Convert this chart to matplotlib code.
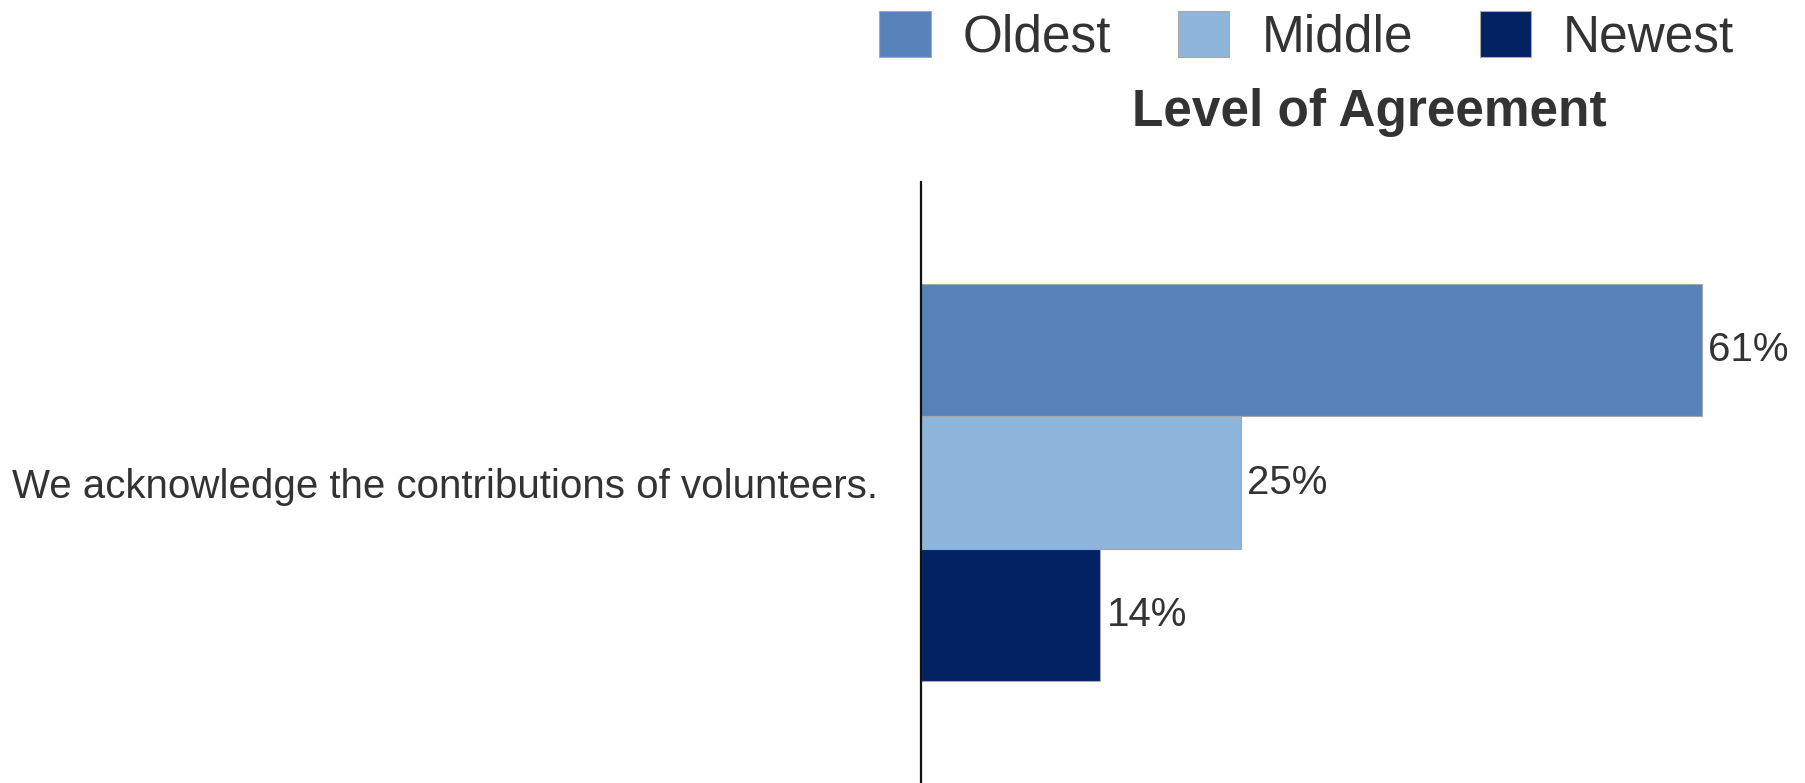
import matplotlib
matplotlib.use("Agg")
import matplotlib.pyplot as plt

plt.rcParams['font.family'] = ['Liberation Sans', 'DejaVu Sans']

# Data
categories = ["We acknowledge the contributions of volunteers."]
series_names = ["Oldest", "Middle", "Newest"]
series_values = [[61], [25], [14]]
series_colors = ["#5782b9", "#8db6da", "#022263"]
legend_title = "Level of Agreement"

W, H, DPI = 1806, 783, 100
fig = plt.figure(figsize=(W / DPI, H / DPI), dpi=DPI)

# axes placement in pixels
ax_left, ax_top, ax_bottom = 921, 182, 783
x_max = 68
px_per_unit = 12.8
ax_width = x_max * px_per_unit
ax = fig.add_axes([ax_left / W, 1 - ax_bottom / H, ax_width / W, (ax_bottom - ax_top) / H])

text_color = "#333333"
bar_h = 1.0
offsets = [1, 0, -1]
for name, vals, col, off in zip(series_names, series_values, series_colors, offsets):
    ys = [i * 4 + off for i in range(len(categories))]
    bars = ax.barh(ys, vals, height=bar_h, color=col, edgecolor="#a8a8a8",
                   linewidth=0.8, label=name)
    for b, v in zip(bars, vals):
        ax.text(b.get_width() + 0.5, b.get_y() + b.get_height() / 2, f"{v}%",
                va="center", ha="left", fontsize=29, color=text_color)

ax.set_xlim(0, x_max)
ax.set_ylim(-2.27, 2.27)
ax.set_yticks([i * 4 for i in range(len(categories))])
ax.set_yticklabels(categories, fontsize=29, color=text_color)
ax.tick_params(axis="y", length=0, pad=31)
ax.set_xticks([])
for s in ["top", "right", "bottom"]:
    ax.spines[s].set_visible(False)
ax.spines["left"].set_color("#111111")
ax.spines["left"].set_linewidth(1.6)

leg = fig.legend(loc="center", bbox_to_anchor=(1306.8 / W, 1 - 37 / H), ncol=3,
                 frameon=False, fontsize=37, handlelength=1.0, handleheight=1.0,
                 handletextpad=0.62, columnspacing=1.3, borderpad=0, borderaxespad=0)
for t in leg.get_texts():
    t.set_color(text_color)

fig.text(1369 / W, 1 - 112.5 / H, legend_title, ha="center", va="center",
         fontsize=37, fontweight="bold", color=text_color)

fig.savefig("out.png", dpi=DPI, facecolor="white")
